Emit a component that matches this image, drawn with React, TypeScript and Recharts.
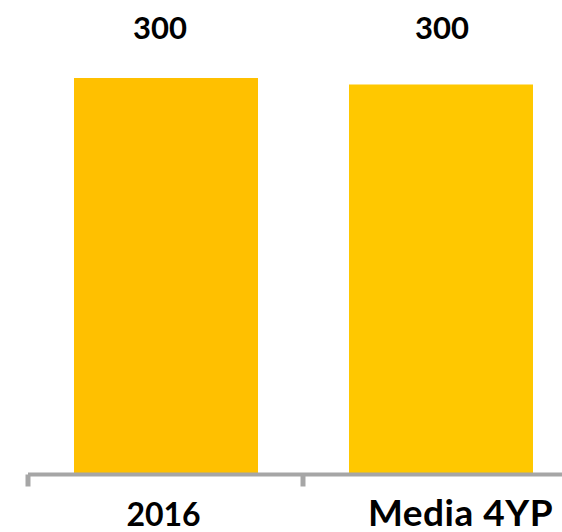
import React from 'react';
import { BarChart, Bar, XAxis, YAxis, Cell, LabelList } from 'recharts';

const categories = ['2016', 'Media 4YP'];
const values = [302, 297];
const valueLabels = ['300', '300'];
const barColors = ['#FFC000', '#FFC800'];
const axisTicks = [0, 0.5, 1, 1.5, 2];

// styling constants (not data)
const categoryFontSizes = [32, 37];
const categoryDx = [-2, 20];
const valueLabelDx = [-6, 1];

const data = categories.map((name, i) => ({ name, value: values[i], label: valueLabels[i], pos: i + 0.5 }));

const AXIS_COLOR = '#A6A6A6';
const FONT = 'Lato, "Open Sans", sans-serif';

const EdgeTick = (props: any) => {
  const { x, y, payload } = props;
  const v = payload.value;
  if (Number.isInteger(v)) {
    return <line x1={x} x2={x} y1={y} y2={y + 12} stroke={AXIS_COLOR} strokeWidth={5} />;
  }
  const i = Math.floor(v);
  return (
    <text
      x={x + categoryDx[i]}
      y={y + 51}
      textAnchor="middle"
      fontFamily={FONT}
      fontWeight={700}
      fontSize={categoryFontSizes[i]}
      letterSpacing={i === 1 ? 0.5 : 0}
      fill="#000"
    >
      {categories[i]}
    </text>
  );
};

const TopLabel = (props: any) => {
  const { x, width, index } = props;
  return (
    <text
      x={x + width / 2 + valueLabelDx[index]}
      y={39}
      textAnchor="middle"
      fontFamily={FONT}
      fontWeight={700}
      fontSize={31}
      fill="#000"
    >
      {valueLabels[index]}
    </text>
  );
};

export default function App() {
  return (
    <div style={{ position: 'absolute', left: 0, top: 0, width: 562, height: 532, overflow: 'hidden', background: '#fff' }}>
      <BarChart width={600} height={532} data={data} margin={{ top: 78, right: 22, left: 28, bottom: 7.5 }}>
        <YAxis hide domain={[0, 302]} />
        <XAxis xAxisId="cat" dataKey="name" hide height={0} />
        <XAxis
          xAxisId="num"
          type="number"
          dataKey="pos"
          domain={[0, 2]}
          allowDataOverflow
          ticks={axisTicks}
          interval={0}
          tickSize={0}
          tickMargin={0}
          tickLine={false}
          tick={EdgeTick}
          height={50}
          axisLine={{ stroke: AXIS_COLOR, strokeWidth: 4 }}
        />
        <Bar dataKey="value" xAxisId="cat" barSize={184} isAnimationActive={false}>
          {data.map((d, i) => (
            <Cell key={d.name} fill={barColors[i]} />
          ))}
          <LabelList dataKey="label" content={TopLabel} />
        </Bar>
      </BarChart>
    </div>
  );
}
